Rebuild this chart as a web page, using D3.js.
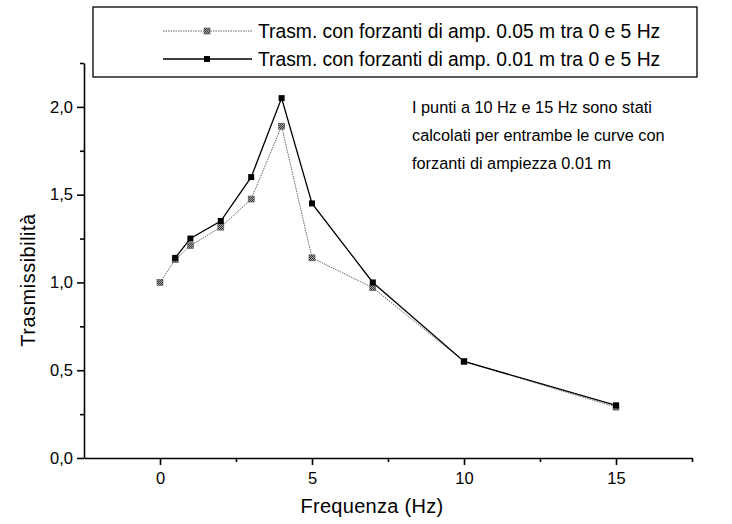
<!DOCTYPE html>
<html>
<head>
<meta charset="utf-8">
<script src="https://cdn.jsdelivr.net/npm/d3@7"></script>
<style>
  body { margin: 0; background: #fff; }
  text { font-family: "Liberation Sans", Arial, sans-serif; }
</style>
</head>
<body>
<script>
const width = 732;
const height = 524;

// data
const freqA = [0, 0.5, 1, 2, 3, 4, 5, 7, 10, 15];
const trasmA = [1.0, 1.13, 1.21, 1.315, 1.475, 1.89, 1.14, 0.97, 0.55, 0.29];
const freqB = [0.5, 1, 2, 3, 4, 5, 7, 10, 15];
const trasmB = [1.14, 1.25, 1.35, 1.60, 2.05, 1.45, 1.00, 0.55, 0.30];
const seriesNames = [
  'Trasm. con forzanti di amp. 0.05 m tra 0 e 5 Hz',
  'Trasm. con forzanti di amp. 0.01 m tra 0 e 5 Hz'
];
const xTicks = [0, 5, 10, 15];
const yTicks = [0, 0.5, 1.0, 1.5, 2.0];
const note = [
  'I punti a 10 Hz e 15 Hz sono stati',
  'calcolati per entrambe le curve con',
  'forzanti di ampiezza 0.01 m'
];

const margin = { left: 84, right: 40, top: 63, bottom: 66 };

const svg = d3.select('body')
  .append('svg')
  .attr('width', width)
  .attr('height', height);

const defs = svg.append('defs');
const pat = defs.append('pattern')
  .attr('id', 'hatch')
  .attr('width', 2).attr('height', 2)
  .attr('patternUnits', 'userSpaceOnUse');
pat.append('rect').attr('width', 2).attr('height', 2).attr('fill', '#aaa');
pat.append('rect').attr('width', 1).attr('height', 1).attr('fill', '#333');
pat.append('rect').attr('x', 1).attr('y', 1).attr('width', 1).attr('height', 1).attr('fill', '#333');

const x = d3.scaleLinear()
  .domain([-2.5, 17.5])
  .range([margin.left, width - margin.right]);

const y = d3.scaleLinear()
  .domain([0, 2.25])
  .range([height - margin.bottom, margin.top]);

const fmt = d => d3.format('.1f')(d).replace('.', ',');

// axes
svg.append('g')
  .attr('transform', `translate(0,${y(0)})`)
  .call(d3.axisBottom(x).tickValues(xTicks).tickSize(7).tickPadding(7).tickSizeOuter(0));
svg.append('g')
  .attr('transform', `translate(0,${y(0)})`)
  .call(d3.axisBottom(x).tickValues([2.5, 7.5, 12.5, 17.5]).tickSize(4).tickFormat('').tickSizeOuter(0))
  .select('.domain').remove();

svg.append('g')
  .attr('transform', `translate(${x(-2.5)},0)`)
  .call(d3.axisLeft(y).tickValues(yTicks).tickFormat(fmt).tickSize(7).tickPadding(4).tickSizeOuter(0));
svg.append('g')
  .attr('transform', `translate(${x(-2.5)},0)`)
  .call(d3.axisLeft(y).tickValues([0.25, 0.75, 1.25, 1.75, 2.25]).tickSize(4).tickFormat('').tickSizeOuter(0))
  .select('.domain').remove();

svg.selectAll('.domain').attr('stroke-width', 1.6);
svg.selectAll('.tick line').attr('stroke-width', 1.6);
svg.selectAll('.tick text')
  .attr('font-size', 16.5)
  .attr('font-family', '"Liberation Sans", Arial, sans-serif')
  .attr('fill', '#000');

// axis titles
svg.append('text')
  .attr('x', 372)
  .attr('y', 513)
  .attr('text-anchor', 'middle')
  .attr('font-size', 20)
  .attr('letter-spacing', 0.3)
  .text('Frequenza (Hz)');

svg.append('text')
  .attr('transform', `translate(35,280) rotate(-90)`)
  .attr('text-anchor', 'middle')
  .attr('font-size', 20)
  .attr('letter-spacing', 0.5)
  .text('Trasmissibilità');

// lines
const line = d3.line().x(d => x(d[0])).y(d => y(d[1]));
const ptsA = freqA.map((f, i) => [f, trasmA[i]]);
const ptsB = freqB.map((f, i) => [f, trasmB[i]]);

svg.append('path')
  .datum(ptsA)
  .attr('d', line)
  .attr('fill', 'none')
  .attr('stroke', '#666')
  .attr('stroke-width', 1)
  .attr('stroke-dasharray', '1.5,1');

svg.append('path')
  .datum(ptsB)
  .attr('d', line)
  .attr('fill', 'none')
  .attr('stroke', '#000')
  .attr('stroke-width', 1.3);

svg.selectAll('.mA')
  .data(ptsA)
  .enter().append('rect')
  .attr('x', d => x(d[0]) - 3)
  .attr('y', d => y(d[1]) - 3)
  .attr('width', 6).attr('height', 6)
  .attr('fill', 'url(#hatch)')
  .attr('stroke', '#555')
  .attr('stroke-width', 0.6);

svg.selectAll('.mB')
  .data(ptsB)
  .enter().append('rect')
  .attr('x', d => x(d[0]) - 3)
  .attr('y', d => y(d[1]) - 3)
  .attr('width', 6).attr('height', 6)
  .attr('fill', '#000');

// legend
svg.append('rect')
  .attr('x', 93).attr('y', 7)
  .attr('width', 604).attr('height', 70)
  .attr('fill', '#fff')
  .attr('stroke', '#000')
  .attr('stroke-width', 1.3);

const lg = svg.append('g');
[0, 1].forEach(i => {
  const ly = 31 + i * 28;
  lg.append('line')
    .attr('x1', 163).attr('x2', 252)
    .attr('y1', ly).attr('y2', ly)
    .attr('stroke', i === 0 ? '#666' : '#000')
    .attr('stroke-width', i === 0 ? 1 : 1.3)
    .attr('stroke-dasharray', i === 0 ? '1.5,1' : null);
  lg.append('rect')
    .attr('x', 204).attr('y', ly - 3)
    .attr('width', 6).attr('height', 6)
    .attr('fill', i === 0 ? 'url(#hatch)' : '#000')
    .attr('stroke', i === 0 ? '#555' : 'none')
    .attr('stroke-width', 0.6);
  lg.append('text')
    .attr('x', 258).attr('y', ly + 7)
    .attr('font-size', 19.3)
    .text(seriesNames[i]);
});

// note
svg.append('g').selectAll('text')
  .data(note)
  .enter().append('text')
  .attr('x', 412)
  .attr('y', (d, i) => 113 + i * 28)
  .attr('font-size', 16.3)
  .text(d => d);
</script>
</body>
</html>
